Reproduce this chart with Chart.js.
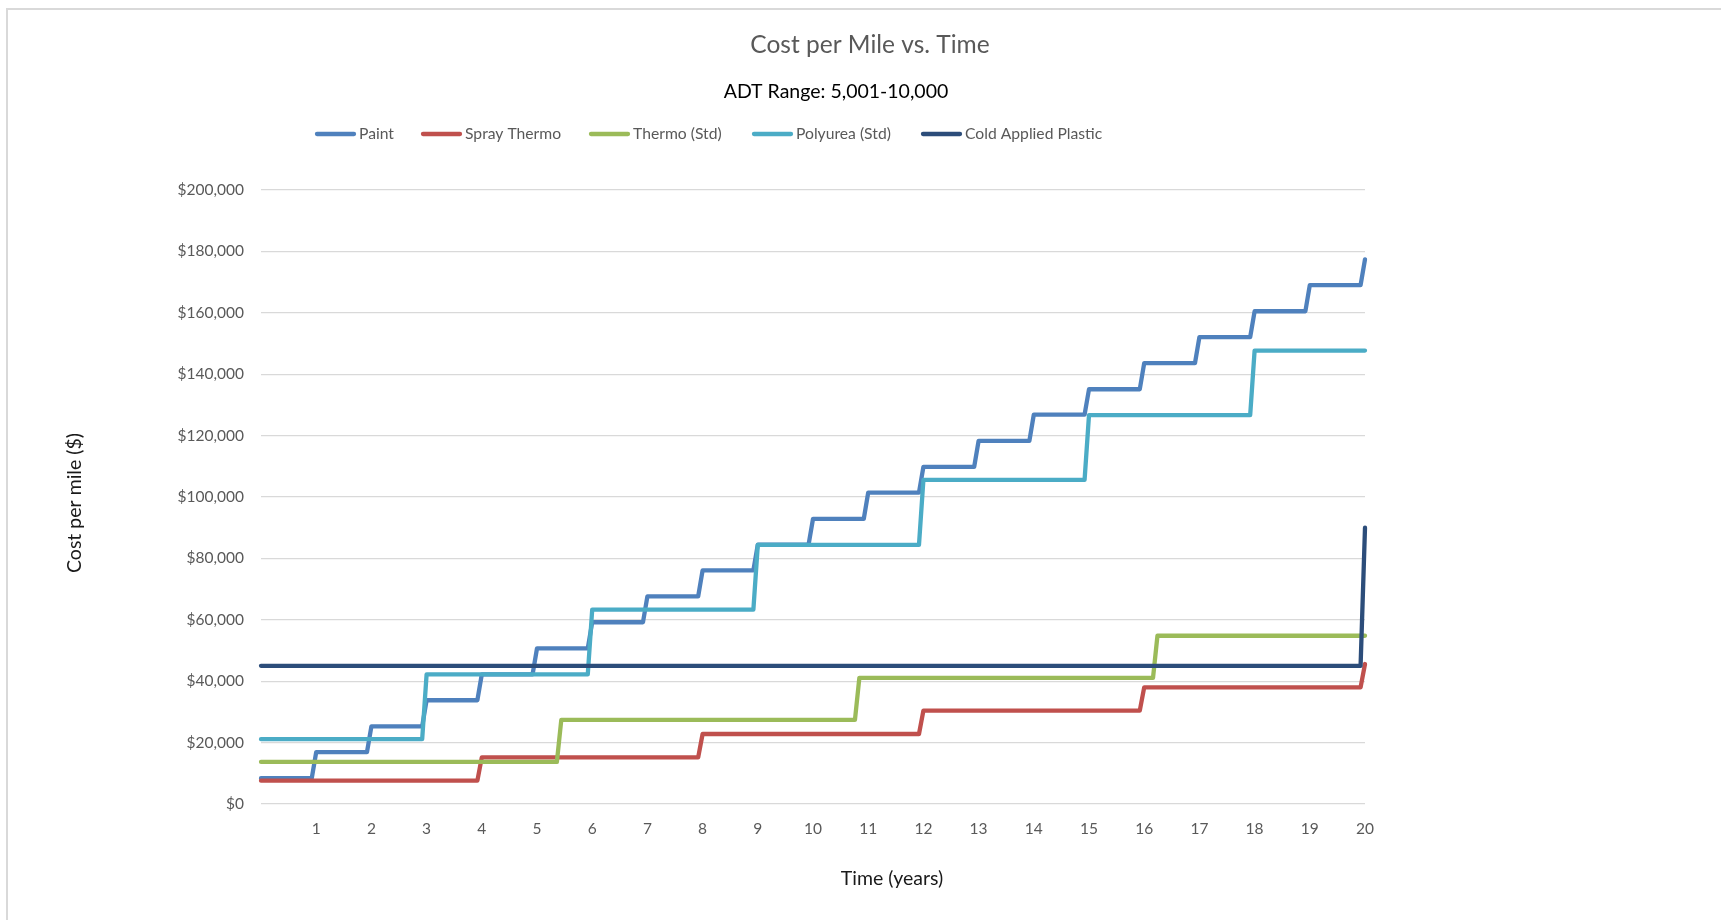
<!DOCTYPE html>
<html>
<head>
<meta charset="utf-8">
<title>Cost per Mile vs. Time</title>
<script src="https://cdn.jsdelivr.net/npm/chart.js@4.4.1/dist/chart.umd.min.js"></script>
<style>
  html, body { margin: 0; padding: 0; background: #fff; }
  #wrap { position: relative; width: 1721px; height: 920px; }
</style>
</head>
<body>
<div id="wrap"><canvas id="chart"></canvas></div>
<script>
// years at which a new application happens, and the cumulative cost per mile after it
const paintYears = [0, 1, 2, 3, 4, 5, 6, 7, 8, 9, 10, 11, 12, 13, 14, 15, 16, 17, 18, 19, 20];
const paintCost = [8400, 16900, 25300, 33800, 42200, 50700, 59200, 67600, 76100, 84500, 92900,
  101400, 109800, 118300, 126800, 135100, 143600, 152100, 160500, 169000, 177400];

const sprayYears = [0, 4, 8, 12, 16, 20];
const sprayCost = [7600, 15200, 22800, 30400, 38000, 45600];

const thermoYears = [0, 5.44, 10.84, 16.24];
const thermoCost = [13700, 27400, 41100, 54800];

const polyYears = [0, 3, 6, 9, 12, 15, 18];
const polyCost = [21100, 42200, 63300, 84400, 105600, 126700, 147700];

const coldYears = [0, 20];
const coldCost = [45000, 90000];

const seriesNames = ['Paint', 'Spray Thermo', 'Thermo (Std)', 'Polyurea (Std)', 'Cold Applied Plastic'];
const seriesColors = ['#4F81BD', '#C0504D', '#9BBB59', '#4BACC6', '#2C4D7A'];

const yTicks = { min: 0, max: 200000, step: 20000 };
const xTicks = { min: 0, max: 20, step: 1 };

const RAMP = 0.08;   // the sheet steps over a short interval, not a vertical jump
const END_YEAR = 20;

function stepPoints(years, costs) {
  const pts = [{ x: years[0], y: costs[0] }];
  for (let i = 1; i < years.length; i++) {
    pts.push({ x: years[i] - RAMP, y: costs[i - 1] });
    pts.push({ x: years[i], y: costs[i] });
  }
  if (years[years.length - 1] < END_YEAR) {
    pts.push({ x: END_YEAR, y: costs[costs.length - 1] });
  }
  return pts;
}

const FONT = 'Lato, "Open Sans", sans-serif';
const GREY = '#595959';

// title, subtitle, legend, axis titles and the frame are placed like the sheet
const sheetText = {
  id: 'sheetText',
  beforeDraw(chart) {
    const ctx = chart.ctx;
    ctx.save();
    ctx.fillStyle = '#fff';
    ctx.fillRect(0, 0, chart.width, chart.height);
    ctx.fillStyle = '#d9d9d9';
    ctx.fillRect(6, 8, chart.width, 2);
    ctx.fillRect(6, 8, 2, chart.height);
    ctx.restore();
  },
  afterDraw(chart) {
    const ctx = chart.ctx;
    ctx.save();
    ctx.textBaseline = 'middle';

    ctx.fillStyle = GREY;
    ctx.textAlign = 'center';
    ctx.font = '24.5px ' + FONT;
    ctx.fillText('Cost per Mile vs. Time', 870, 45);

    ctx.fillStyle = '#000';
    ctx.font = '19.5px ' + FONT;
    ctx.fillText('ADT Range: 5,001-10,000', 836, 92);

    // legend
    const swatchX = [315, 421, 589, 752, 921];
    ctx.font = '15.7px ' + FONT;
    ctx.textAlign = 'left';
    chart.data.datasets.forEach((ds, i) => {
      const x = swatchX[i];
      ctx.strokeStyle = ds.borderColor;
      ctx.lineWidth = 4.3;
      ctx.lineCap = 'round';
      ctx.beginPath();
      ctx.moveTo(x + 2, 134);
      ctx.lineTo(x + 39, 134);
      ctx.stroke();
      ctx.fillStyle = GREY;
      ctx.fillText(ds.label, x + 44, 134);
    });

    // axis titles
    ctx.fillStyle = '#1a1a1a';
    ctx.font = '19.5px ' + FONT;
    ctx.textAlign = 'center';
    ctx.fillText('Time (years)', 892, 879);
    ctx.translate(75, 503);
    ctx.rotate(-Math.PI / 2);
    ctx.fillText('Cost per mile ($)', 0, 0);
    ctx.restore();
  }
};

const allYears = [paintYears, sprayYears, thermoYears, polyYears, coldYears];
const allCosts = [paintCost, sprayCost, thermoCost, polyCost, coldCost];

const datasets = seriesNames.map((name, i) => ({
  label: name,
  data: stepPoints(allYears[i], allCosts[i]),
  borderColor: seriesColors[i],
  backgroundColor: seriesColors[i],
  borderWidth: 4.3,
  borderCapStyle: 'round',
  borderJoinStyle: 'round',
  pointRadius: 0,
  tension: 0,
  clip: false,
  order: seriesNames.length - i   // later series sit on top, as in the sheet
}));

new Chart(document.getElementById('chart'), {
  type: 'scatter',
  data: { datasets },
  options: {
    responsive: true,
    maintainAspectRatio: false,
    animation: false,
    showLine: true,
    layout: { padding: { left: 0, top: 190, right: 356, bottom: 56 } },
    plugins: {
      legend: { display: false },
      title: { display: false },
      tooltip: { enabled: false }
    },
    scales: {
      x: {
        type: 'linear',
        min: xTicks.min,
        max: xTicks.max,
        afterFit(scale) { scale.height = 60; },
        grid: { display: false, drawTicks: false },
        border: { display: false },
        ticks: {
          stepSize: xTicks.step,
          autoSkip: false,
          maxRotation: 0,
          padding: 16,
          color: GREY,
          font: { family: FONT, size: 15.5 },
          callback: v => (v === 0 ? '' : v)
        }
      },
      y: {
        min: yTicks.min,
        max: yTicks.max,
        afterFit(scale) { scale.width = 261; },
        grid: { color: '#d9d9d9', lineWidth: 1.3, drawTicks: false },
        border: { display: false },
        ticks: {
          stepSize: yTicks.step,
          padding: 17,
          color: GREY,
          font: { family: FONT, size: 15.5 },
          callback: v => '$' + v.toLocaleString('en-US')
        }
      }
    }
  },
  plugins: [sheetText]
});
</script>
</body>
</html>
